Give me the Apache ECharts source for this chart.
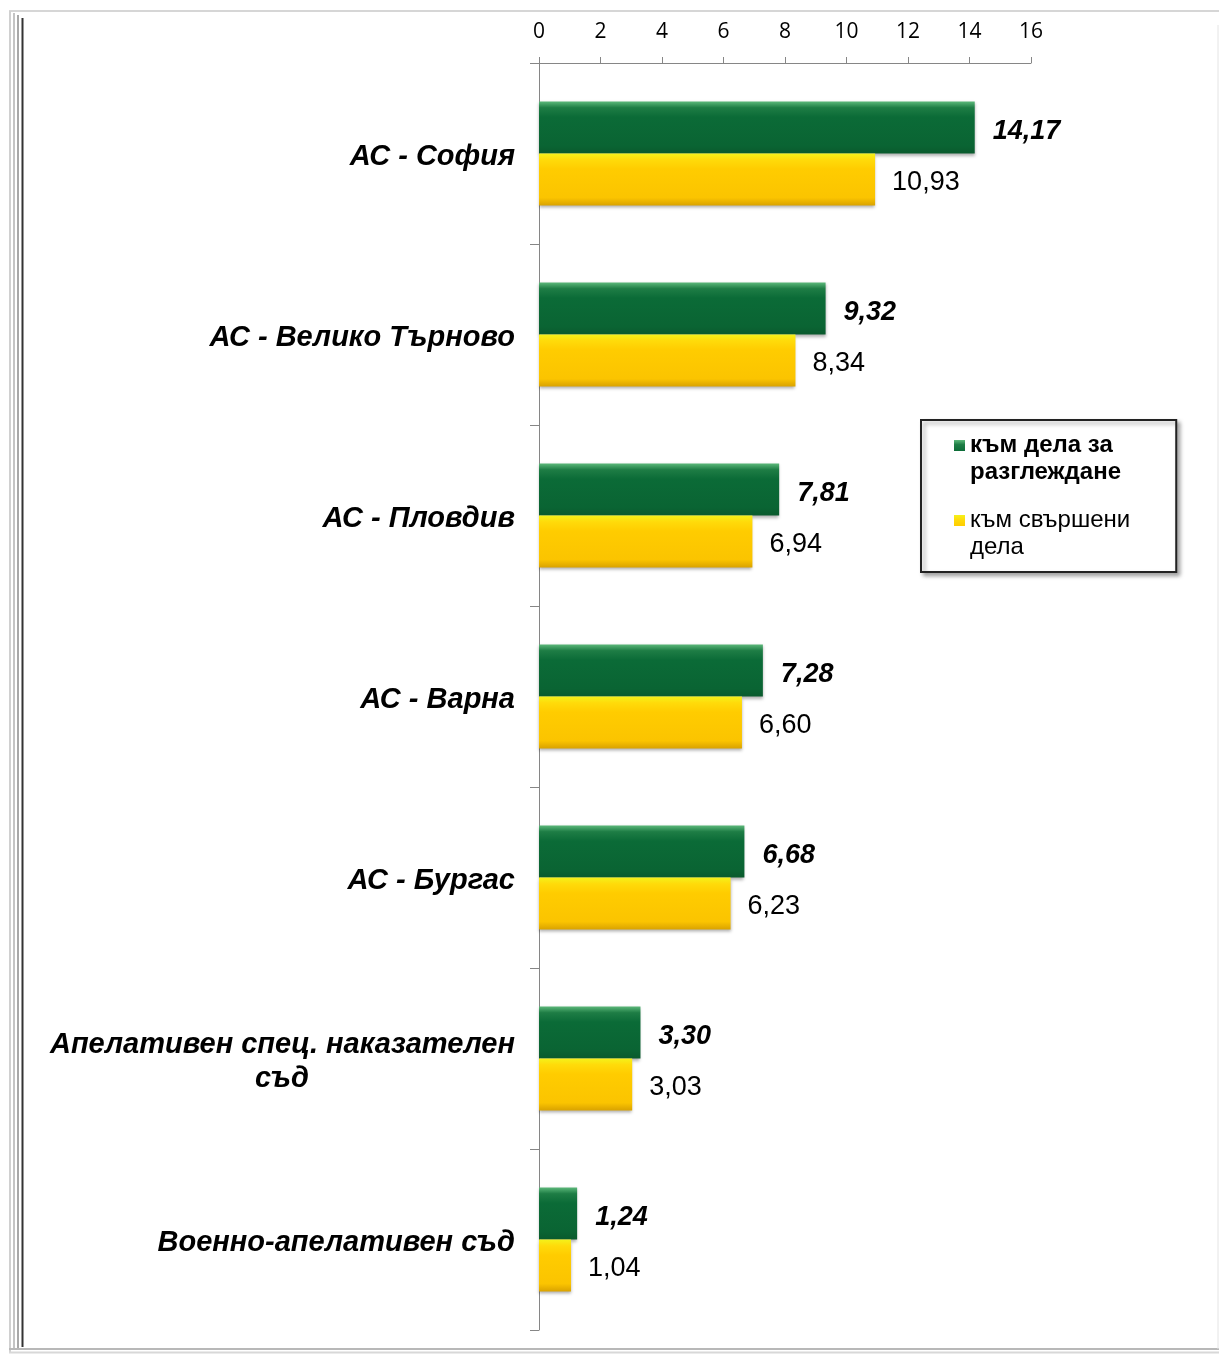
<!DOCTYPE html>
<html>
<head>
<meta charset="utf-8">
<script src="https://cdn.jsdelivr.net/npm/echarts@6/dist/echarts.min.js"></script>
<style>
html,body{margin:0;padding:0;background:#fff;}
#c{width:1219px;height:1355px;}
</style>
</head>
<body>
<div id="c"></div>
<script>
const categories = ['АС - София','АС - Велико Търново','АС - Пловдив','АС - Варна','АС - Бургас','Апелативен спец. наказателен съд','Военно-апелативен съд'];
const seriesNames = ['към дела за разглеждане','към свършени дела'];
const pending = [14.17, 9.32, 7.81, 7.28, 6.68, 3.30, 1.24];
const completed = [10.93, 8.34, 6.94, 6.60, 6.23, 3.03, 1.04];
const xTicks = [0, 2, 4, 6, 8, 10, 12, 14, 16];

const FONT = '"Liberation Sans", Arial, sans-serif';
const TICKFONT = '"Open Sans", "Liberation Sans", sans-serif';
const catFontSize = 29;
const valFontSize = 27;

function measure(text, font) {
  const cv = document.createElement('canvas');
  const ctx = cv.getContext('2d');
  ctx.font = font;
  return ctx.measureText(text).width;
}

const legendWrap = {
  'към дела за разглеждане': 'към дела за\nразглеждане',
  'към свършени дела': 'към свършени\nдела'
};

const chart = echarts.init(document.getElementById('c'), null, {renderer: 'canvas'});

const greenGrad = new echarts.graphic.LinearGradient(0, 0, 0, 1, [
  {offset: 0, color: '#5cb87a'},
  {offset: 0.12, color: '#1e7d45'},
  {offset: 0.3, color: '#0b6b37'},
  {offset: 0.85, color: '#0a6433'},
  {offset: 1, color: '#0a5a2d'}
]);
const yellowGrad = new echarts.graphic.LinearGradient(0, 0, 0, 1, [
  {offset: 0, color: '#f4f21a'},
  {offset: 0.12, color: '#ffdb0a'},
  {offset: 0.3, color: '#ffcc00'},
  {offset: 0.85, color: '#fbc400'},
  {offset: 1, color: '#d9a200'}
]);

const longLine1 = 'Апелативен спец. наказателен';
const longW = Math.ceil(measure(longLine1, 'italic bold ' + catFontSize + 'px ' + FONT));

const legendIcon = 'path://M0,0L10,0L10,10L0,10Z M0,34.5L10,34.5';

const option = {
  animation: false,
  textStyle: {fontFamily: FONT},
  grid: {left: 539, right: 188, top: 63, bottom: 25, containLabel: false},
  legend: {
    orient: 'vertical',
    left: 921,
    top: 420,
    padding: [12, 46, 11, 33],
    itemGap: 21,
    itemWidth: 11,
    itemHeight: 38,
    backgroundColor: '#fff',
    borderColor: '#222',
    borderWidth: 2,
    shadowColor: 'rgba(0,0,0,0.35)',
    shadowBlur: 4,
    shadowOffsetX: 3,
    shadowOffsetY: 3,
    formatter: function (name) { return legendWrap[name] || name; },
    textStyle: {fontSize: 24, lineHeight: 27, color: '#000', fontFamily: FONT},
    data: [
      {name: seriesNames[0], icon: legendIcon, textStyle: {fontWeight: 'bold'}},
      {name: seriesNames[1], icon: legendIcon, textStyle: {fontWeight: 'normal'}}
    ]
  },
  xAxis: {
    type: 'value',
    position: 'top',
    min: xTicks[0],
    max: xTicks[xTicks.length - 1],
    interval: xTicks[1] - xTicks[0],
    splitLine: {show: false},
    axisLine: {show: true, lineStyle: {color: '#868686', width: 1}},
    axisTick: {show: true, length: 6, lineStyle: {color: '#868686'}},
    axisLabel: {fontSize: 21, color: '#000', margin: 20, fontFamily: TICKFONT}
  },
  yAxis: {
    type: 'category',
    inverse: true,
    data: categories,
    axisLine: {show: true, lineStyle: {color: '#868686', width: 1}},
    axisTick: {show: true, length: 9, lineStyle: {color: '#868686'}},
    axisLabel: {
      margin: 24,
      color: '#000',
      fontSize: catFontSize,
      fontWeight: 'bold',
      fontStyle: 'italic',
      fontFamily: FONT,
      lineHeight: 34,
      padding: [6, 0, 0, 0],
      formatter: function (v) {
        if (v === categories[5]) {
          return '{a|' + longLine1 + '}\n{b|съд}';
        }
        return v;
      },
      rich: {
        a: {fontSize: catFontSize, fontWeight: 'bold', fontStyle: 'italic', fontFamily: FONT, color: '#000', lineHeight: 34},
        b: {fontSize: catFontSize, fontWeight: 'bold', fontStyle: 'italic', fontFamily: FONT, color: '#000', lineHeight: 34, width: longW, align: 'center'}
      }
    }
  },
  series: [
    {
      name: seriesNames[0],
      type: 'bar',
      data: pending,
      barGap: '0%',
      barCategoryGap: '42.5%',
      itemStyle: {color: greenGrad, shadowColor: 'rgba(0,0,0,0.3)', shadowBlur: 3, shadowOffsetY: 2},
      label: {
        show: true,
        position: 'right',
        distance: 18,
        offset: [0, 4],
        color: '#000',
        fontSize: valFontSize,
        fontWeight: 'bold',
        fontStyle: 'italic',
        fontFamily: FONT,
        formatter: function (p) { return p.value.toFixed(2).replace('.', ','); }
      }
    },
    {
      name: seriesNames[1],
      type: 'bar',
      data: completed,
      barGap: '0%',
      barCategoryGap: '42.5%',
      itemStyle: {color: yellowGrad, shadowColor: 'rgba(0,0,0,0.3)', shadowBlur: 3, shadowOffsetY: 2},
      label: {
        show: true,
        position: 'right',
        distance: 17,
        offset: [0, 3],
        color: '#000',
        fontSize: valFontSize,
        fontFamily: FONT,
        formatter: function (p) { return p.value.toFixed(2).replace('.', ','); }
      }
    }
  ],
  graphic: [
    {type: 'line', silent: true, shape: {x1: 9, y1: 11, x2: 1219, y2: 11}, style: {stroke: '#d6d6d6', lineWidth: 2}},
    {type: 'line', silent: true, shape: {x1: 10, y1: 11, x2: 10, y2: 1352}, style: {stroke: '#d0d0d0', lineWidth: 2}},
    {type: 'line', silent: true, shape: {x1: 14, y1: 13, x2: 14, y2: 1350}, style: {stroke: '#c4c4c4', lineWidth: 2}},
    {type: 'line', silent: true, shape: {x1: 18, y1: 15, x2: 18, y2: 1348}, style: {stroke: '#a8a8a8', lineWidth: 2}},
    {type: 'line', silent: true, shape: {x1: 22.5, y1: 18, x2: 22.5, y2: 1347}, style: {stroke: '#333', lineWidth: 2}},
    {type: 'line', silent: true, shape: {x1: 9, y1: 1349, x2: 1219, y2: 1349}, style: {stroke: '#b8b8b8', lineWidth: 2}},
    {type: 'line', silent: true, shape: {x1: 9, y1: 1352.5, x2: 1219, y2: 1352.5}, style: {stroke: '#d8d8d8', lineWidth: 2}},
    {type: 'line', silent: true, shape: {x1: 1218, y1: 25, x2: 1218, y2: 1349}, style: {stroke: '#e4e4e4', lineWidth: 1}}
  ]
};

chart.setOption(option);
</script>
</body>
</html>
